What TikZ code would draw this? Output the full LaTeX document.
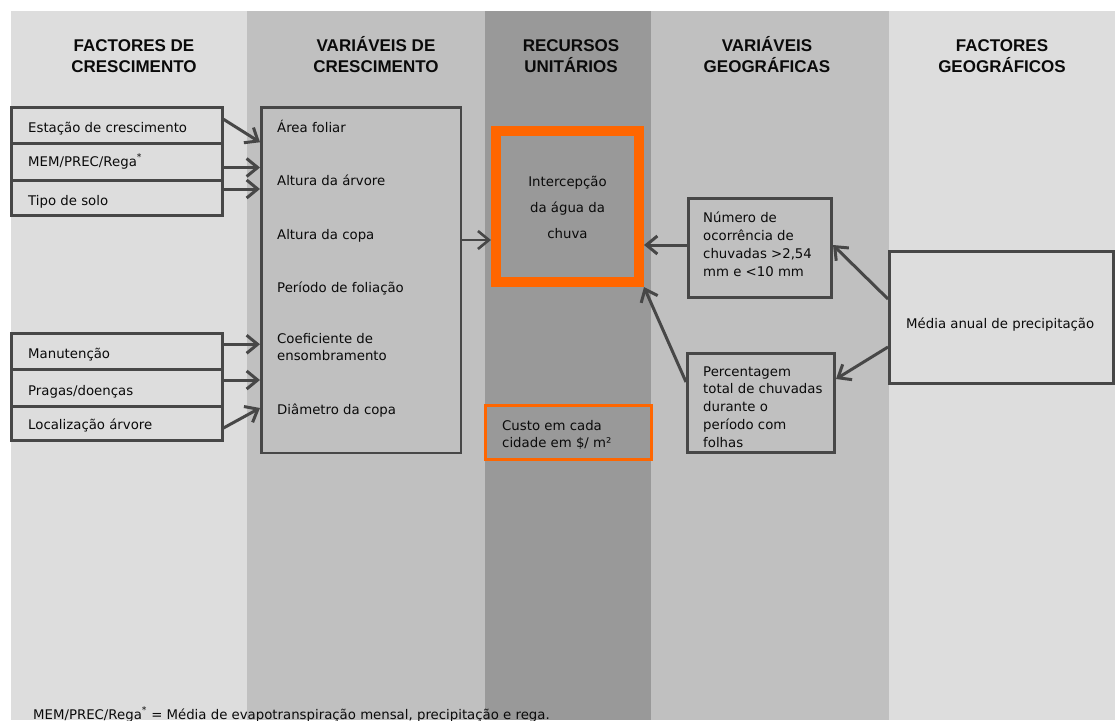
\documentclass[tikz,border=0pt]{standalone}
\usepackage{fontspec}
\setmainfont{DejaVu Sans}
\newfontfamily\hdrfont{Liberation Sans}
\usetikzlibrary{arrows.meta,fit,calc}
\definecolor{colA}{HTML}{DDDDDD}
\definecolor{colB}{HTML}{C0C0C0}
\definecolor{colC}{HTML}{999999}
\definecolor{bord}{HTML}{474747}
\definecolor{orng}{HTML}{FF6600}
\definecolor{txt}{HTML}{0A0A0A}
\newcommand\mlL[2]{\vtop{\baselineskip=#1\relax\lineskiplimit=-30pt\halign{##\hfil\cr#2\crcr}}}
\newcommand\mlC[2]{\vtop{\baselineskip=#1\relax\lineskiplimit=-30pt\halign{\hfil##\hfil\cr#2\crcr}}}
\begin{document}
\begin{tikzpicture}[x=1pt,y=-1pt,
  body/.style={font=\fontsize{13.3}{16}\selectfont, text=txt, inner sep=0pt, anchor=base west},
  hdr/.style={font=\hdrfont\bfseries\fontsize{17}{21}\selectfont, text=txt, inner sep=0pt, anchor=base},
  gbox/.style={draw=bord, line width=3pt, inner sep=0pt},
  obox/.style={draw=orng, inner sep=0pt},
  arr/.style={draw=bord, line width=3pt, -{Straight Barb[length=11pt,width=18pt]}},
]
\useasboundingbox (0,0) rectangle (1115,720);
\fill[white] (0,0) rectangle (1115,720);
\fill[colA] (11,11) rectangle (247,720);
\fill[colB] (247,11) rectangle (485,720);
\fill[colC] (485,11) rectangle (651,720);
\fill[colB] (651,11) rectangle (889,720);
\fill[colA] (889,11) rectangle (1115,720);

% headers
\node[hdr] (h1a) at (134,51) {FACTORES DE};
\node[hdr] (h1b) at (134,72) {CRESCIMENTO};
\node[hdr] (h2a) at (376,51) {VARIÁVEIS DE};
\node[hdr] (h2b) at (376,72) {CRESCIMENTO};
\node[hdr] (h3a) at (571,51) {RECURSOS};
\node[hdr] (h3b) at (571,72) {UNITÁRIOS};
\node[hdr] (h4a) at (767,51) {VARIÁVEIS};
\node[hdr] (h4b) at (767,72) {GEOGRÁFICAS};
\node[hdr] (h5a) at (1002,51) {FACTORES};
\node[hdr] (h5b) at (1002,72) {GEOGRÁFICOS};

% boxes
\node[gbox, fit={(11,107.5)(222,143)}] (estacao) {};
\node[gbox, fit={(11,143)(222,180)}] (mem) {};
\node[gbox, fit={(11,180)(222,215.5)}] (tipo) {};
\node[gbox, fit={(11,333)(222,369.5)}] (manut) {};
\node[gbox, fit={(11,369.5)(222,406)}] (pragas) {};
\node[gbox, fit={(11,406)(222,440)}] (local) {};
\node[gbox, line width=2.5pt, fit={(261.25,107.25)(460.75,452.75)}] (vc) {};
\node[obox, line width=10pt, fill=colC, fit={(496,131)(639,282)}] (inter) {};
\node[obox, line width=3pt, fit={(485.5,405.5)(651.5,459.5)}] (custo) {};
\node[gbox, fit={(688.5,198.5)(831.5,297.5)}] (numero) {};
\node[gbox, fit={(687.5,353.5)(834.5,452.5)}] (perc) {};
\node[gbox, fill=colA, fit={(889.5,251.5)(1113,383.5)}] (media) {};

% texts
\node[body] (t1) at (28,132) {Estação de crescimento};
\node[body] (t2) at (28,166) {MEM/PREC/Rega\textsuperscript{*}};
\node[body] (t3) at (28,205) {Tipo de solo};
\node[body] (t4) at (28,358) {Manutenção};
\node[body] (t5) at (28,395) {Pragas/doenças};
\node[body] (t6) at (28,429) {Localização árvore};

\node[body] (v1) at (277,132) {Área foliar};
\node[body] (v2) at (277,185) {Altura da árvore};
\node[body] (v3) at (277,239) {Altura da copa};
\node[body] (v4) at (277,292) {Período de foliação};
\node[body] (v5) at (277,343) {\mlL{17pt}{Coeficiente de\cr ensombramento}};
\node[body] (v6) at (277,414) {Diâmetro da copa};

\node[body, anchor=base] (it) at (567.5,186) {\mlC{26pt}{Intercepção\cr da água da\cr chuva}};
\node[body] (ct) at (502,430) {\mlL{17pt}{Custo em cada\cr cidade em \$/ m²}};
\node[body] (nt) at (703,222) {\mlL{18.3pt}{Número de\cr ocorrência de\cr chuvadas >2,54\cr mm e <10 mm}};
\node[body] (pt) at (703,376) {\mlL{17.75pt}{Percentagem\cr total de chuvadas\cr durante o\cr período com\cr folhas}};
\node[body] (mt) at (906,328) {Média anual de precipitação};

\node[body] (foot) at (33,719) {MEM/PREC/Rega\textsuperscript{*} = Média de evapotranspiração mensal, precipitação e rega.};

% connectors
\draw[arr] ($(estacao.east)+(0,-6)$) -- ($(estacao.east -| vc.west)+(0,17)$);
\draw[arr] ($(mem.east)+(0,6)$) -- ($(mem.east -| vc.west)+(0,6)$);
\draw[arr] ($(tipo.east)+(0,-8.75)$) -- ($(tipo.east -| vc.west)+(0,-8.75)$);
\draw[arr] ($(manut.east)+(0,-7)$) -- ($(manut.east -| vc.west)+(0,-7)$);
\draw[arr] ($(pragas.east)+(0,-7.75)$) -- ($(pragas.east -| vc.west)+(0,-7.75)$);
\draw[arr] ($(local.east)+(0,5)$) -- ($(local.east -| vc.west)+(0,-15)$);
\draw[arr, line width=2.6pt] ($(vc.east)+(0,-40)$) -- ($(vc.east -| inter.west)+(0,-40)$);
\draw[arr] ($(numero.west)+(0,-3)$) -- ($(numero.west -| inter.east)+(0,-3)$);
\draw[arr] ($(media.west)+(0,-18.5)$) -- ($(numero.east)+(0,-3)$);
\draw[arr] ($(media.west)+(0,29.5)$) -- ($(perc.east)+(0,-24)$);
\draw[arr] ($(perc.west)+(0,-21)$) -- (inter.south east);
\end{tikzpicture}
\end{document}
